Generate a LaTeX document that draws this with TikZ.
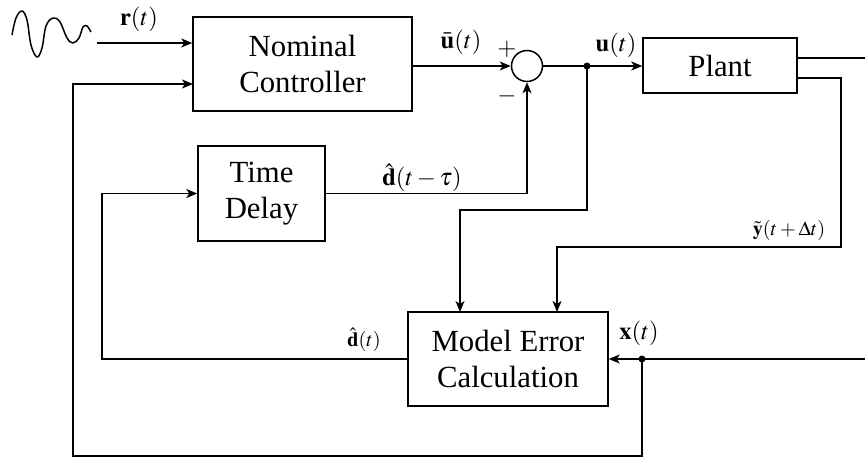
\documentclass[tikz,border=0pt]{standalone}
\usepackage{mathptmx}
\usepackage{fontspec}
\setmainfont{Liberation Serif}
\usetikzlibrary{arrows.meta}

\tikzset{
  block/.style={draw, line width=0.03cm, align=center, inner sep=0pt,
    font=\fontsize{17.5}{20.5}\selectfont},
  sig/.style={line width=0.03cm},
  sigarrow/.style={sig, -{Stealth[length=0.22cm,width=0.18cm,inset=0.06cm]}},
  lbl/.style={inner sep=1pt, font=\fontsize{14}{16}\selectfont},
  smalllbl/.style={inner sep=1pt, font=\fontsize{11.5}{13}\selectfont},
}

\begin{document}
\begin{tikzpicture}[x=0.02cm, y=-0.02cm]
                \useasboundingbox (0,0) rectangle (865,459);

                % Drawing blocks
                \node [block, minimum width=4.38cm, minimum height=1.88cm] (nominal) at (302.5,64) {Nominal\\Controller};
                \node [block, minimum width=3.08cm, minimum height=1.10cm] (plant) at (720,65.5) {Plant};
                \node [block, minimum width=2.54cm, minimum height=1.90cm] (delay) at (261.5,193.5) {Time\\Delay};
                \node [block, minimum width=4.00cm, minimum height=1.88cm] (mec) at (508,359) {Model Error\\Calculation};

                % Drawing summing junction
                \node [draw, circle, line width=0.03cm, minimum size=0.62cm, inner sep=0pt] (sum) at (527,66) {};

                % Marking branch points
                \coordinate (udot) at (587,66);
                \coordinate (xdot) at (642,359);
                \fill (udot) circle (0.07cm);
                \fill (xdot) circle (0.07cm);

                % Helper coordinates
                \coordinate (rin) at (97,43);
                \coordinate (fbin) at (193,84);
                \coordinate (fbcorner) at (73,456);
                \coordinate (ubend) at (460,210);
                \coordinate (mecinA) at (460,312);
                \coordinate (mecinB) at (557,312);
                \coordinate (pout) at (797,58);
                \coordinate (pend) at (865,58);
                \coordinate (yout) at (797,78);
                \coordinate (ybend) at (841,247);
                \coordinate (xend) at (865,359);
                \coordinate (dbend) at (102,359);

                % Drawing reference signal
                \draw [sig, line join=round] plot [smooth, tension=0.6] coordinates
                  {(12,35) (16,18) (22,11) (27,20) (31,45) (37,57) (42,48) (46,26) (53,18) (60,22) (67,38) (73,43) (79,38) (83,27) (87,26) (91,32)};
                \draw [sigarrow] (rin) -- (rin -| nominal.west);

                % Drawing forward path
                \draw [sigarrow] (nominal.east |- sum.west) -- (sum.west);
                \draw [sig] (sum.east) -- (udot);
                \draw [sigarrow] (udot) -- (plant.west |- udot);
                \draw [sig] (pout) -- (pend);

                % Drawing model error inputs
                \draw [sigarrow] (udot) -- (udot |- ubend) -| (mecinA);
                \draw [sigarrow] (yout) -| (ybend) -| (mecinB);
                \draw [sigarrow] (xend) -- (mec.east);

                % Drawing disturbance loop
                \draw [sigarrow] (mec.west) -- (dbend) |- (delay.west);
                \draw [sigarrow] (delay.east) -| (sum.south);

                % Drawing state feedback
                \draw [sigarrow] (xdot) |- (fbcorner) |- (fbin);

                % Marking signals
                \node [lbl] (rlbl) at (139,19) {$\mathbf{r}(t)$};
                \node [lbl] (ubarlbl) at (461,42) {$\bar{\mathbf{u}}(t)$};
                \node [lbl] (ulbl) at (616,45) {$\mathbf{u}(t)$};
                \node [lbl] (plus) at (507,49) {$+$};
                \node [lbl] (minus) at (507,96) {$-$};
                \node [lbl] (dtaulbl) at (422,178) {$\hat{\mathbf{d}}(t-\tau)$};
                \node [smalllbl] (ylbl) at (789,230) {$\tilde{\mathbf{y}}(t+\Delta t)$};
                \node [smalllbl] (dlbl) at (364,340) {$\hat{\mathbf{d}}(t)$};
                \node [lbl] (xlbl) at (639,333) {$\mathbf{x}(t)$};
\end{tikzpicture}
\end{document}
